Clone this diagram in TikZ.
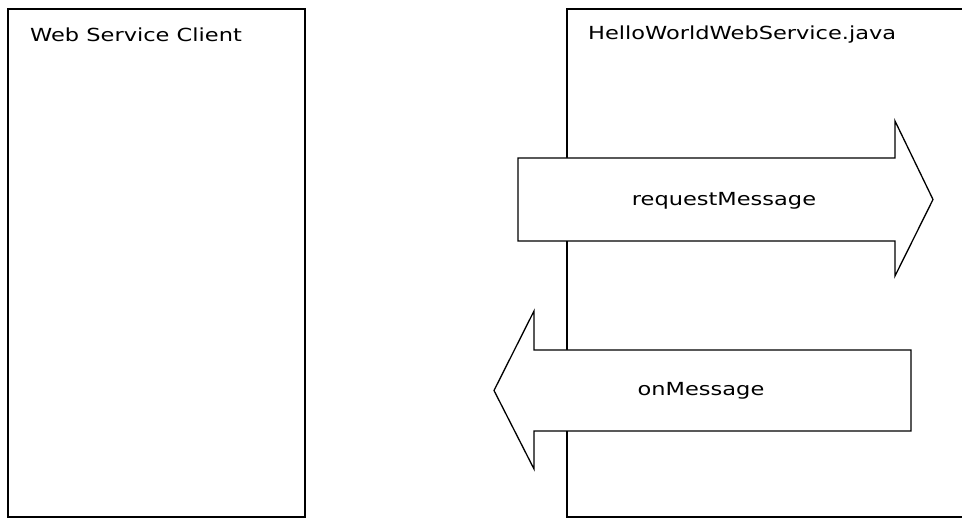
\documentclass[tikz,border=0pt]{standalone}
\usepackage{fontspec}
\newfontfamily\rotulofonte[FakeStretch=1.25]{DejaVu Sans}
\usetikzlibrary{positioning}

\tikzset{
    caixa/.style={line width=1.3pt},
    seta/.style={draw, line width=1.3pt, fill=white, line join=miter},
    rotulo/.style={inner sep=0pt, font=\rotulofonte\fontsize{18}{20}\selectfont}
}

\begin{document}
\begin{tikzpicture}[x=1pt, y=-1pt]

    % 1. Area total do desenho (a caixa da direita sai pela borda)
    \useasboundingbox (0,0) rectangle (962,518);
    \clip (0,0) rectangle (962,518);

    % 2. As duas caixas: cliente e o servico
    \draw[caixa] (8,9) rectangle (305,517);
    \draw[caixa] (975,9) -- (567,9) -- (567,517) -- (975,517);

    \node[rotulo, anchor=west] (cliente) at (30,35) {Web Service Client};
    \node[rotulo, anchor=west] (servico) at (588,35) {HelloWorldWebService.java};

    % 3. Seta da requisicao (para a direita), desenhada por cima da linha da caixa
    \draw[seta] (518,158) -- (895,158) -- (895,121) -- (933,199.5)
        -- (895,276) -- (895,241) -- (518,241) -- cycle;
    \node[rotulo] (requisicao) at (724,201) {requestMessage};

    % 4. Seta da resposta (para a esquerda)
    \draw[seta] (911,350) -- (534,350) -- (534,311) -- (494,390.5)
        -- (534,469) -- (534,431) -- (911,431) -- cycle;
    \node[rotulo] (resposta) at (701,391) {onMessage};

\end{tikzpicture}
\end{document}
